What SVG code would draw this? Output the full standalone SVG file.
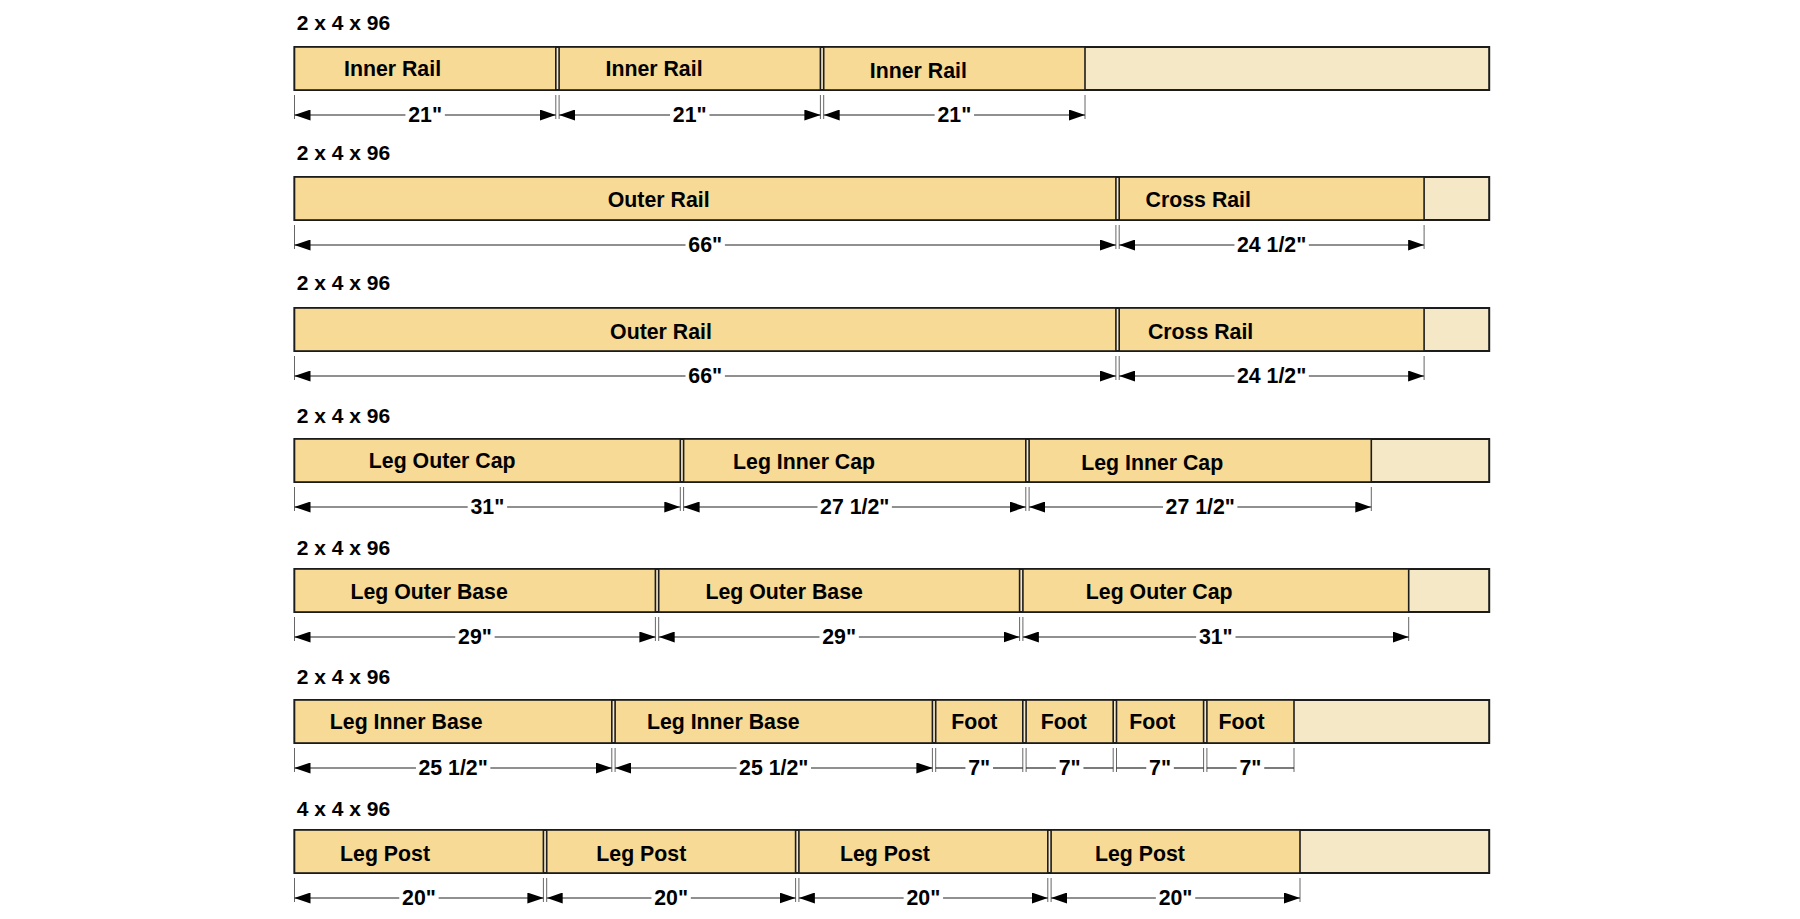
<svg xmlns="http://www.w3.org/2000/svg" width="1800" height="919" viewBox="0 0 1800 919">
<defs>
<marker id="ah" viewBox="0 0 16 11" refX="16" refY="5.5" markerWidth="16" markerHeight="11" markerUnits="userSpaceOnUse" orient="auto-start-reverse"><path d="M0,0L16,5.5L0,11z" fill="#000"/></marker>
</defs>
<style>
.hdr{font:bold 21px "Liberation Sans",Arial,sans-serif;fill:#000}
.lbl{font:bold 21.3px "Liberation Sans",Arial,sans-serif;fill:#000}
.dim{font:bold 21.3px "Liberation Sans",Arial,sans-serif;fill:#000;text-anchor:middle}
.board{fill:#F5E8C6;stroke:#1c1c1c;stroke-width:2}
.piece{fill:#F6DA95;stroke:#1c1c1c;stroke-width:1.6}
.tick{stroke:#666;stroke-width:1}
.dl{stroke:#222;stroke-width:1.2;fill:none}
.l{marker-start:url(#ah)}
.r{marker-end:url(#ah)}
</style>
<rect width="1800" height="919" fill="#fff"/>

<!-- Row 1 -->
<g id="row1">
<text class="hdr" x="296.7" y="30">2 x 4 x 96</text>
<rect class="board" x="294.5" y="47" width="1194.7" height="43"/>
<g id="r1p1"><rect class="piece" x="294.5" y="47" width="261.3" height="43"/><text class="lbl" x="344" y="75.6">Inner Rail</text></g>
<g id="r1p2"><rect class="piece" x="559.1" y="47" width="261.3" height="43"/><text class="lbl" x="605.5" y="75.6">Inner Rail</text></g>
<g id="r1p3"><rect class="piece" x="823.7" y="47" width="261.3" height="43"/><text class="lbl" x="869.8" y="77.9">Inner Rail</text></g>
</g>

<!-- Row 2 -->
<g id="row2">
<text class="hdr" x="296.7" y="160">2 x 4 x 96</text>
<rect class="board" x="294.5" y="177" width="1194.7" height="43"/>
<g id="r2p1"><rect class="piece" x="294.5" y="177" width="821.4" height="43"/><text class="lbl" x="607.8" y="206.7">Outer Rail</text></g>
<g id="r2p2"><rect class="piece" x="1119.2" y="177" width="304.9" height="43"/><text class="lbl" x="1145.6" y="206.7">Cross Rail</text></g>
</g>

<!-- Row 3 -->
<g id="row3">
<text class="hdr" x="296.7" y="290">2 x 4 x 96</text>
<rect class="board" x="294.5" y="308" width="1194.7" height="43"/>
<g id="r3p1"><rect class="piece" x="294.5" y="308" width="821.4" height="43"/><text class="lbl" x="610.1" y="338.9">Outer Rail</text></g>
<g id="r3p2"><rect class="piece" x="1119.2" y="308" width="304.9" height="43"/><text class="lbl" x="1147.9" y="338.9">Cross Rail</text></g>
</g>

<!-- Row 4 -->
<g id="row4">
<text class="hdr" x="296.7" y="423">2 x 4 x 96</text>
<rect class="board" x="294.5" y="439" width="1194.7" height="43"/>
<g id="r4p1"><rect class="piece" x="294.5" y="439" width="385.8" height="43"/><text class="lbl" x="368.8" y="467.6">Leg Outer Cap</text></g>
<g id="r4p2"><rect class="piece" x="683.6" y="439" width="342.2" height="43"/><text class="lbl" x="733.1" y="468.7">Leg Inner Cap</text></g>
<g id="r4p3"><rect class="piece" x="1029.1" y="439" width="342.2" height="43"/><text class="lbl" x="1081.2" y="469.9">Leg Inner Cap</text></g>
</g>

<!-- Row 5 -->
<g id="row5">
<text class="hdr" x="296.7" y="555">2 x 4 x 96</text>
<rect class="board" x="294.5" y="569" width="1194.7" height="43"/>
<g id="r5p1"><rect class="piece" x="294.5" y="569" width="360.9" height="43"/><text class="lbl" x="350.4" y="598.7">Leg Outer Base</text></g>
<g id="r5p2"><rect class="piece" x="658.7" y="569" width="360.9" height="43"/><text class="lbl" x="705.5" y="598.7">Leg Outer Base</text></g>
<g id="r5p3"><rect class="piece" x="1022.9" y="569" width="385.8" height="43"/><text class="lbl" x="1085.8" y="598.7">Leg Outer Cap</text></g>
</g>

<!-- Row 6 -->
<g id="row6">
<text class="hdr" x="296.7" y="684">2 x 4 x 96</text>
<rect class="board" x="294.5" y="700" width="1194.7" height="43"/>
<g id="r6p1"><rect class="piece" x="294.5" y="700" width="317.3" height="43"/><text class="lbl" x="329.8" y="729.3">Leg Inner Base</text></g>
<g id="r6p2"><rect class="piece" x="615.1" y="700" width="317.3" height="43"/><text class="lbl" x="646.9" y="729.3">Leg Inner Base</text></g>
<g id="r6p3"><rect class="piece" x="935.7" y="700" width="87.1" height="43"/><text class="lbl" x="951.2" y="729.3">Foot</text></g>
<g id="r6p4"><rect class="piece" x="1026.1" y="700" width="87.1" height="43"/><text class="lbl" x="1040.8" y="729.3">Foot</text></g>
<g id="r6p5"><rect class="piece" x="1116.5" y="700" width="87.1" height="43"/><text class="lbl" x="1129.2" y="729.3">Foot</text></g>
<g id="r6p6"><rect class="piece" x="1206.9" y="700" width="87.1" height="43"/><text class="lbl" x="1218.5" y="729.3">Foot</text></g>
</g>

<!-- Row 7 -->
<g id="row7">
<text class="hdr" x="296.7" y="816">4 x 4 x 96</text>
<rect class="board" x="294.5" y="830" width="1194.7" height="43"/>
<g id="r7p1"><rect class="piece" x="294.5" y="830" width="248.9" height="43"/><text class="lbl" x="340.1" y="860.9">Leg Post</text></g>
<g id="r7p2"><rect class="piece" x="546.7" y="830" width="248.9" height="43"/><text class="lbl" x="596.3" y="860.9">Leg Post</text></g>
<g id="r7p3"><rect class="piece" x="798.9" y="830" width="248.9" height="43"/><text class="lbl" x="839.9" y="860.9">Leg Post</text></g>
<g id="r7p4"><rect class="piece" x="1051.1" y="830" width="248.9" height="43"/><text class="lbl" x="1095" y="860.9">Leg Post</text></g>
</g>

<!-- Dimension connectors -->
<g id="dimensions">
<!-- row 1 -->
<g class="tick">
<line x1="294.5" y1="95" x2="294.5" y2="119"/><line x1="555.8" y1="95" x2="555.8" y2="119"/>
<line x1="559.1" y1="95" x2="559.1" y2="119"/><line x1="820.4" y1="95" x2="820.4" y2="119"/>
<line x1="823.7" y1="95" x2="823.7" y2="119"/><line x1="1085" y1="95" x2="1085" y2="119"/>
</g>
<g class="dl">
<line class="l" x1="294.5" y1="115" x2="405.45" y2="115"/><line class="r" x1="444.85" y1="115" x2="555.8" y2="115"/>
<line class="l" x1="559.1" y1="115" x2="670.05" y2="115"/><line class="r" x1="709.45" y1="115" x2="820.4" y2="115"/>
<line class="l" x1="823.7" y1="115" x2="934.65" y2="115"/><line class="r" x1="974.05" y1="115" x2="1085" y2="115"/>
</g>
<text class="dim" x="425.15" y="122">21"</text>
<text class="dim" x="689.75" y="122">21"</text>
<text class="dim" x="954.35" y="122">21"</text>

<!-- row 2 -->
<g class="tick">
<line x1="294.5" y1="225" x2="294.5" y2="249"/><line x1="1115.9" y1="225" x2="1115.9" y2="249"/>
<line x1="1119.2" y1="225" x2="1119.2" y2="249"/><line x1="1424.1" y1="225" x2="1424.1" y2="249"/>
</g>
<g class="dl">
<line class="l" x1="294.5" y1="245" x2="685.5" y2="245"/><line class="r" x1="724.9" y1="245" x2="1115.9" y2="245"/>
<line class="l" x1="1119.2" y1="245" x2="1234.45" y2="245"/><line class="r" x1="1308.85" y1="245" x2="1424.1" y2="245"/>
</g>
<text class="dim" x="705.2" y="252">66"</text>
<text class="dim" x="1271.65" y="252">24 1/2"</text>

<!-- row 3 -->
<g class="tick">
<line x1="294.5" y1="356" x2="294.5" y2="380"/><line x1="1115.9" y1="356" x2="1115.9" y2="380"/>
<line x1="1119.2" y1="356" x2="1119.2" y2="380"/><line x1="1424.1" y1="356" x2="1424.1" y2="380"/>
</g>
<g class="dl">
<line class="l" x1="294.5" y1="376" x2="685.5" y2="376"/><line class="r" x1="724.9" y1="376" x2="1115.9" y2="376"/>
<line class="l" x1="1119.2" y1="376" x2="1234.45" y2="376"/><line class="r" x1="1308.85" y1="376" x2="1424.1" y2="376"/>
</g>
<text class="dim" x="705.2" y="383">66"</text>
<text class="dim" x="1271.65" y="383">24 1/2"</text>

<!-- row 4 -->
<g class="tick">
<line x1="294.5" y1="487" x2="294.5" y2="511"/><line x1="680.3" y1="487" x2="680.3" y2="511"/>
<line x1="683.6" y1="487" x2="683.6" y2="511"/><line x1="1025.8" y1="487" x2="1025.8" y2="511"/>
<line x1="1029.1" y1="487" x2="1029.1" y2="511"/><line x1="1371.3" y1="487" x2="1371.3" y2="511"/>
</g>
<g class="dl">
<line class="l" x1="294.5" y1="507" x2="467.7" y2="507"/><line class="r" x1="507.1" y1="507" x2="680.3" y2="507"/>
<line class="l" x1="683.6" y1="507" x2="817.5" y2="507"/><line class="r" x1="891.9" y1="507" x2="1025.8" y2="507"/>
<line class="l" x1="1029.1" y1="507" x2="1163" y2="507"/><line class="r" x1="1237.4" y1="507" x2="1371.3" y2="507"/>
</g>
<text class="dim" x="487.4" y="514">31"</text>
<text class="dim" x="854.7" y="514">27 1/2"</text>
<text class="dim" x="1200.2" y="514">27 1/2"</text>

<!-- row 5 -->
<g class="tick">
<line x1="294.5" y1="617" x2="294.5" y2="641"/><line x1="655.4" y1="617" x2="655.4" y2="641"/>
<line x1="658.7" y1="617" x2="658.7" y2="641"/><line x1="1019.6" y1="617" x2="1019.6" y2="641"/>
<line x1="1022.9" y1="617" x2="1022.9" y2="641"/><line x1="1408.7" y1="617" x2="1408.7" y2="641"/>
</g>
<g class="dl">
<line class="l" x1="294.5" y1="637" x2="455.25" y2="637"/><line class="r" x1="494.65" y1="637" x2="655.4" y2="637"/>
<line class="l" x1="658.7" y1="637" x2="819.45" y2="637"/><line class="r" x1="858.85" y1="637" x2="1019.6" y2="637"/>
<line class="l" x1="1022.9" y1="637" x2="1196.1" y2="637"/><line class="r" x1="1235.5" y1="637" x2="1408.7" y2="637"/>
</g>
<text class="dim" x="474.95" y="644">29"</text>
<text class="dim" x="839.15" y="644">29"</text>
<text class="dim" x="1215.8" y="644">31"</text>

<!-- row 6 -->
<g class="tick">
<line x1="294.5" y1="748" x2="294.5" y2="772"/><line x1="611.8" y1="748" x2="611.8" y2="772"/>
<line x1="615.1" y1="748" x2="615.1" y2="772"/><line x1="932.4" y1="748" x2="932.4" y2="772"/>
<line x1="935.7" y1="748" x2="935.7" y2="772"/><line x1="1022.8" y1="748" x2="1022.8" y2="772"/>
<line x1="1026.1" y1="748" x2="1026.1" y2="772"/><line x1="1113.2" y1="748" x2="1113.2" y2="772"/>
<line x1="1116.5" y1="748" x2="1116.5" y2="772"/><line x1="1203.6" y1="748" x2="1203.6" y2="772"/>
<line x1="1206.9" y1="748" x2="1206.9" y2="772"/><line x1="1294" y1="748" x2="1294" y2="772"/>
</g>
<g class="dl">
<line class="l" x1="294.5" y1="768" x2="415.95" y2="768"/><line class="r" x1="490.35" y1="768" x2="611.8" y2="768"/>
<line class="l" x1="615.1" y1="768" x2="736.55" y2="768"/><line class="r" x1="810.95" y1="768" x2="932.4" y2="768"/>
<line x1="935.7" y1="768" x2="965.45" y2="768"/><line x1="993.05" y1="768" x2="1022.8" y2="768"/>
<line x1="1026.1" y1="768" x2="1055.85" y2="768"/><line x1="1083.45" y1="768" x2="1113.2" y2="768"/>
<line x1="1116.5" y1="768" x2="1146.25" y2="768"/><line x1="1173.85" y1="768" x2="1203.6" y2="768"/>
<line x1="1206.9" y1="768" x2="1236.65" y2="768"/><line x1="1264.25" y1="768" x2="1294" y2="768"/>
</g>
<text class="dim" x="453.15" y="775">25 1/2"</text>
<text class="dim" x="773.75" y="775">25 1/2"</text>
<text class="dim" x="979.25" y="775">7"</text>
<text class="dim" x="1069.65" y="775">7"</text>
<text class="dim" x="1160.05" y="775">7"</text>
<text class="dim" x="1250.45" y="775">7"</text>

<!-- row 7 -->
<g class="tick">
<line x1="294.5" y1="878" x2="294.5" y2="902"/><line x1="543.4" y1="878" x2="543.4" y2="902"/>
<line x1="546.7" y1="878" x2="546.7" y2="902"/><line x1="795.6" y1="878" x2="795.6" y2="902"/>
<line x1="798.9" y1="878" x2="798.9" y2="902"/><line x1="1047.8" y1="878" x2="1047.8" y2="902"/>
<line x1="1051.1" y1="878" x2="1051.1" y2="902"/><line x1="1300" y1="878" x2="1300" y2="902"/>
</g>
<g class="dl">
<line class="l" x1="294.5" y1="898" x2="399.25" y2="898"/><line class="r" x1="438.65" y1="898" x2="543.4" y2="898"/>
<line class="l" x1="546.7" y1="898" x2="651.45" y2="898"/><line class="r" x1="690.85" y1="898" x2="795.6" y2="898"/>
<line class="l" x1="798.9" y1="898" x2="903.65" y2="898"/><line class="r" x1="943.05" y1="898" x2="1047.8" y2="898"/>
<line class="l" x1="1051.1" y1="898" x2="1155.85" y2="898"/><line class="r" x1="1195.25" y1="898" x2="1300" y2="898"/>
</g>
<text class="dim" x="418.95" y="905">20"</text>
<text class="dim" x="671.15" y="905">20"</text>
<text class="dim" x="923.35" y="905">20"</text>
<text class="dim" x="1175.55" y="905">20"</text>
</g>
</svg>
